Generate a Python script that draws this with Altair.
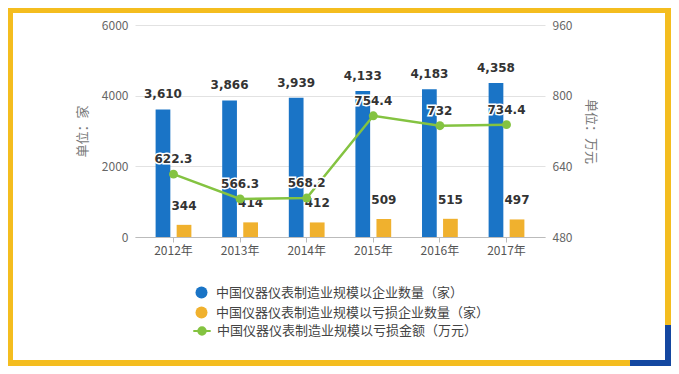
import altair as alt
import pandas as pd

years = ["2012年", "2013年", "2014年", "2015年", "2016年", "2017年"]
enterprises = [3610, 3866, 3939, 4133, 4183, 4358]
loss_enterprises = [344, 414, 412, 509, 515, 497]
loss_amount = [622.3, 566.3, 568.2, 754.4, 732.0, 734.4]

S1 = "中国仪器仪表制造业规模以企业数量（家）"
S2 = "中国仪器仪表制造业规模以亏损企业数量（家）"
S3 = "中国仪器仪表制造业规模以亏损金额（万元）"
bar_colors = ["#1A74C6", "#F0B12E"]
line_color = "#84C341"

left_ticks = [0, 2000, 4000, 6000]
right_ticks = [480, 640, 800, 960]

FONT = "Noto Sans CJK SC"
LABEL_FONT = "DejaVu Sans"

bars_df = pd.DataFrame(
    {"year": years * 2,
     "series": [S1] * len(years) + [S2] * len(years),
     "value": enterprises + loss_enterprises}
)
line_df = pd.DataFrame(
    {"year": years, "series": [S3] * len(years), "value": loss_amount,
     "label": [f"{v:g}" for v in loss_amount]}
)
# decorative frame pieces (pixel offsets relative to the plot area)
frame_yellow = pd.DataFrame({
    "x": [-127, -127, 530, -127], "x2": [536, -122, 536, 495],
    "y": [-17, -17, -17, 335], "y2": [-12, 341, 300, 341]})
frame_blue = pd.DataFrame({
    "x": [530, 495], "x2": [536, 536], "y": [300, 335], "y2": [341, 341]})

leg_common = dict(
    orient="none", title=None, symbolSize=144,
    labelFont=FONT, labelFontSize=13, labelColor="#444", labelLimit=500,
    labelOffset=8, rowPadding=6, padding=0,
)
bar_legend = alt.Legend(legendX=60, legendY=261, symbolType="circle",
                        symbolStrokeWidth=0, **leg_common)
line_legend = alt.Legend(
    legendX=60, legendY=299,
    symbolType="M-1.45,0L1.45,0M0.62,0A0.62,0.62 0 1 1 -0.62,0A0.62,0.62 0 1 1 0.62,0Z",
    symbolFillColor=line_color, symbolStrokeColor=line_color, symbolStrokeWidth=2,
    **leg_common)

x_enc = alt.X(
    "year:N", sort=years,
    scale=alt.Scale(paddingInner=0.368, paddingOuter=0.262),
    axis=alt.Axis(title=None, labelAngle=0, labelFont=FONT, labelFontSize=12,
                  labelColor="#555", domain=True, domainColor="#bbb",
                  ticks=True, tickColor="#bbb", tickSize=5, labelPadding=3,
                  grid=False),
)

y_left = alt.Y(
    "value:Q", scale=alt.Scale(domain=[0, 6000], nice=False),
    axis=alt.Axis(orient="left", values=left_ticks, format="d", title="单位：家",
                  titleFont=FONT, titleFontSize=13, titleFontWeight="normal",
                  titleColor="#777", titlePadding=12,
                  labelFont=FONT, labelFontSize=12, labelColor="#666",
                  domain=False, ticks=False, labelPadding=7,
                  grid=True, gridColor="#e2e2e2"),
)
y_right = alt.Y(
    "value:Q", scale=alt.Scale(domain=[480, 960], nice=False),
    axis=alt.Axis(orient="right", values=right_ticks, format="d", title="单位：万元",
                  titleFont=FONT, titleFontSize=13, titleFontWeight="normal",
                  titleColor="#777", titlePadding=12,
                  labelFont=FONT, labelFontSize=12, labelColor="#666",
                  domain=False, ticks=False, labelPadding=7, grid=False),
)

xoff = alt.XOffset("series:N", sort=[S1, S2],
                   scale=alt.Scale(paddingInner=0.3, paddingOuter=0.15))

def frame_layer(df, color):
    return alt.Chart(df).mark_rect(color=color).encode(
        x=alt.X("x:Q", scale=None), x2="x2:Q",
        y=alt.Y("y:Q", scale=None), y2="y2:Q")

frame_y = frame_layer(frame_yellow, "#F4BD1F")
frame_b = frame_layer(frame_blue, "#1447A0")

bars = alt.Chart(bars_df).mark_bar().encode(
    x=x_enc, xOffset=xoff, y=y_left,
    color=alt.Color("series:N", scale=alt.Scale(domain=[S1, S2], range=bar_colors),
                    legend=bar_legend),
)

txt_style = dict(font=LABEL_FONT, fontSize=12, fontWeight="bold", baseline="bottom")

blue_txt = alt.Chart(bars_df).transform_filter(alt.datum.series == S1).mark_text(
    dy=-8, color="#333", **txt_style).encode(
    x=x_enc, xOffset=xoff, y=y_left, text=alt.Text("value:Q", format=",d"))

orange_halo = alt.Chart(bars_df).transform_filter(alt.datum.series == S2).mark_text(
    dy=-12, color="#333", stroke="white", strokeWidth=3, **txt_style).encode(
    x=x_enc, xOffset=xoff, y=y_left, text=alt.Text("value:Q", format="d"))
orange_txt = alt.Chart(bars_df).transform_filter(alt.datum.series == S2).mark_text(
    dy=-12, color="#333", **txt_style).encode(
    x=x_enc, xOffset=xoff, y=y_left, text=alt.Text("value:Q", format="d"))

left_layer = alt.layer(bars, blue_txt, orange_halo, orange_txt)

line = alt.Chart(line_df).mark_line(strokeWidth=2.5).encode(
    x=x_enc, y=y_right,
    stroke=alt.Stroke("series:N", scale=alt.Scale(domain=[S3], range=[line_color]),
                      legend=line_legend),
)
points = alt.Chart(line_df).mark_circle(size=80, opacity=1, color=line_color).encode(
    x=x_enc, y=y_right,
)
line_halo = alt.Chart(line_df).mark_text(
    dy=-8, color="#333", stroke="white", strokeWidth=3, **txt_style).encode(
    x=x_enc, y=y_right, text="label:N")
line_txt = alt.Chart(line_df).mark_text(dy=-8, color="#333", **txt_style).encode(
    x=x_enc, y=y_right, text="label:N")

right_layer = alt.layer(line, points, line_halo, line_txt)

chart = alt.layer(left_layer, right_layer, frame_y, frame_b).resolve_scale(
    y="independent").properties(
    width=410, height=212,
    padding={"left": 127, "top": 17, "right": 126, "bottom": 129},
    autosize=alt.AutoSizeParams(type="none"),
    background="white",
).configure_view(stroke=None)

chart.save("out.html", embed_options={"renderer": "svg", "actions": False})
